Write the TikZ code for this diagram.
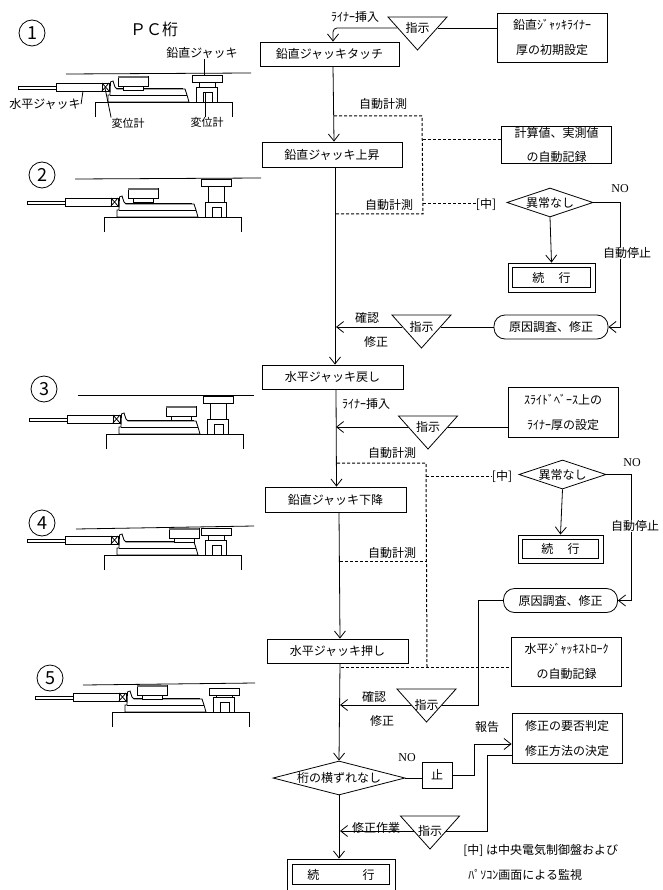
\documentclass[tikz,border=0pt]{standalone}
\usepackage{fontspec}
\setmainfont{Noto Sans CJK JP}
\newfontfamily\latinfont{Liberation Serif}
\usetikzlibrary{arrows.meta, shapes.geometric}
\newcommand{\jackset}[3]{
		\draw(0,15) -- (0,0) -- (137,0) -- (137,15);
		\draw(-77,-16) rectangle (-39,-13);
		\draw(-39,-19) rectangle (7,-11);
		\draw(7,-19) rectangle (14,-11);
		\draw(7,-19) -- (14,-11);
		\draw(7,-11) -- (14,-19);
		\draw(13,0) -- (13,-7) -- (15,-7) -- (15.5,-20) -- (18,-21) -- (20,-15) -- (22,-13) -- (90,-13) -- (92,-7) -- (94,0) -- cycle;
		\draw(15,-7) -- (92,-7);
		\draw[line width=1.2pt](22,-13.5) -- (88,-13.5);
		\draw[fill=white](#1,#2) rectangle ({#1+30},{#2+10});
		\fill[black!60](#1,#2) rectangle ({#1+30},{#2+2});
		\draw[fill=white]({#1+5},{#2+10}) rectangle ({#1+25},{#2+14});
		\draw(101,0) -- (101,-15) -- (122,-15) -- (122,0);
		\draw(108,0) -- (108,-10) -- (117,-10) -- (117,0);
		\draw(97,#3) rectangle (127,{#3+7});
		\draw(104,{#3+7}) -- (104,-15);
		\draw(120,{#3+7}) -- (120,-15);
}
\tikzset{
	flowbox/.style={draw, align=center, inner sep=0pt},
	planbox/.style={flowbox, minimum width=110pt, minimum height=49pt},
	stadium/.style={draw, rounded corners=11pt, inner sep=0pt, minimum width=114pt, minimum height=24pt},
	judge/.style={draw, diamond, inner sep=0pt, aspect=3},
	donebox/.style={draw, inner sep=0pt,
		append after command={\pgfextra{\draw([shift={(#1,#1)}]\tikzlastnode.north west) rectangle ([shift={(-#1,-#1)}]\tikzlastnode.south east);}}},
	stagemark/.style={draw, circle, inner sep=0pt, minimum size=26pt, font=\fontsize{18}{18}\selectfont},
	tag/.style={inner sep=0pt},
	dashline/.style={line width=1pt, dash pattern=on 3pt off 2pt},
	tri/.style={inner sep=0pt, minimum width={59pt*(33-#1)/33}, minimum height=12pt,
		append after command={\pgfextra{\draw([shift={(-29.5,-#1)}]\tikzlastnode.center) -- ([shift={(29.5,-#1)}]\tikzlastnode.center) -- ([shift={(0,33-#1)}]\tikzlastnode.center) -- cycle;}}}
}
\begin{document}
\begin{tikzpicture}[x=1pt,y=-1pt,line width=0.8pt,>={Straight Barb[length=7pt,width=11pt]},font=\fontsize{12}{25}\selectfont]
		\useasboundingbox (0,0) rectangle (662,890);

		\node[stagemark] (s1) at (32,33) {1};
		\node[stagemark] (s2) at (42,175) {2};
		\node[stagemark] (s3) at (44,389) {3};
		\node[stagemark] (s4) at (42,523) {4};
		\node[stagemark] (s5) at (50,678) {5};
		\node[tag, font=\fontsize{16}{16}\selectfont] (pc) at (154,29) {ＰＣ桁};

		\draw(66,74) -- (251,73);
		\draw(75,179) -- (261,178);
		\draw(78,395) -- (254,395);
		\draw(76,529) -- (254,526);
		\draw(83,685) -- (255,683);
		\begin{scope}[shift={(95,102)}]
			\jackset{23}{-26}{-27}
		\end{scope}
		\begin{scope}[shift={(104,217)}]
			\jackset{24}{-29}{-38}
		\end{scope}
		\begin{scope}[shift={(106,434)}]
			\jackset{60}{-28}{-38}
		\end{scope}
		\begin{scope}[shift={(104,555)}]
			\jackset{65}{-27}{-27}
		\end{scope}
		\begin{scope}[shift={(112,712)}]
			\jackset{25}{-27}{-24}
		\end{scope}

		\node[tag] (vlabel) at (202,53) {鉛直ジャッキ};
		\node[tag] (hlabel) at (45,104) {水平ジャッキ};
		\node[tag, font=\fontsize{11}{11}\selectfont] (gauge1) at (128,123) {変位計};
		\node[tag, font=\fontsize{11}{11}\selectfont] (gauge2) at (207,122) {変位計};
		\coordinate (vhead) at (204,75);
		\coordinate (hcyl) at (83,91);
		\coordinate (gxbox) at (105,88);
		\coordinate (gbase) at (205,93);
		\draw([xshift=2pt]vlabel.south) -- (vhead);
		\draw(hlabel.east) -- (hcyl);
		\draw(gauge1.north west) -- (gxbox);
		\draw([xshift=-2pt]gauge2.north) -- (gbase);

		\node[flowbox, minimum width=139pt, minimum height=24pt] (touch) at (329.5,54) {鉛直ジャッキタッチ};
		\node[flowbox, minimum width=140pt, minimum height=25pt] (rise) at (332,154.5) {鉛直ジャッキ上昇};
		\node[flowbox, minimum width=141pt, minimum height=24pt] (back) at (332.5,377) {水平ジャッキ戻し};
		\node[flowbox, minimum width=141pt, minimum height=25pt] (lower) at (335.5,499.5) {鉛直ジャッキ下降};
		\node[flowbox, minimum width=141pt, minimum height=24pt] (push) at (337.5,651) {水平ジャッキ押し};
		\node[judge, minimum width=132pt, minimum height=34pt, aspect=4] (judge3) at (339,778) {桁の横ずれなし};
		\node[donebox=6, minimum width=108pt, minimum height=31pt] (done3) at (341,874.5) {続\hspace{3.6em}行};

		\node[planbox] (liner) at (552,37.5) {鉛直ｼﾞｬｯｷﾗｲﾅｰ\\厚の初期設定};
		\node[planbox, minimum height=37pt, font=\fontsize{12}{24}\selectfont] (record1) at (556.5,144.5) {計算値、実測値\\の自動記録};
		\node[planbox, minimum height=50pt] (slide) at (563,412) {ｽﾗｲﾄﾞﾍﾞｰｽ上の\\ﾗｲﾅｰ厚の設定};
		\node[planbox] (record2) at (566.5,661.5) {水平ｼﾞｬｯｷｽﾄﾛｰｸ\\の自動記録};
		\node[planbox, minimum height=50pt] (plan) at (567,738) {修正の要否判定\\修正方法の決定};

		\node[tri=11] (t1) at (417.5,28) {指示};
		\node[tri=12] (t2) at (421.5,327) {指示};
		\node[tri=11] (t3) at (428,427) {指示};
		\node[tri=16] (t4) at (426.5,705) {指示};
		\node[tri=15] (t5) at (430,831) {指示};

		\node[judge, minimum width=86pt, minimum height=29pt] (judge1) at (550,202.5) {異常なし};
		\node[judge, minimum width=87pt, minimum height=29pt] (judge2) at (562.5,474.5) {異常なし};
		\node[donebox=5, minimum width=87pt, minimum height=29pt] (done1) at (551.5,277.5) {続\hspace{1.2em}行};
		\node[donebox=5, minimum width=85pt, minimum height=28pt] (done2) at (560.5,549) {続\hspace{1.2em}行};
		\node[stadium] (cause1) at (551,327) {原因調査、修正};
		\node[stadium] (cause2) at (560.5,600.5) {原因調査、修正};
		\node[flowbox, minimum width=30pt, minimum height=26pt] (halt) at (437,775) {止};

		\node[tag] (mid1) at (486,204) {[中]};
		\node[tag] (mid2) at (502,476) {[中]};
		\node[tag] (stop1) at (627,253) {自動停止};
		\node[tag] (stop2) at (635,526) {自動停止};
		\node[tag, font=\latinfont\fontsize{12}{12}\selectfont] (no1) at (620,189) {NO};
		\node[tag, font=\latinfont\fontsize{12}{12}\selectfont] (no2) at (632,463) {NO};
		\node[tag, font=\latinfont\fontsize{12}{12}\selectfont] (no3) at (407,758) {NO};
		\node[tag] (linerin1) at (355,17) {ﾗｲﾅｰ挿入};
		\node[tag] (linerin2) at (366,404) {ﾗｲﾅｰ挿入};
		\node[tag] (auto1) at (383,104) {自動計測};
		\node[tag] (auto2) at (389,205) {自動計測};
		\node[tag] (auto3) at (392,453) {自動計測};
		\node[tag] (auto4) at (392,553) {自動計測};
		\node[tag] (check1) at (367,318) {確認};
		\node[tag] (fix1) at (376,342) {修正};
		\node[tag] (check2) at (374,697) {確認};
		\node[tag] (fix2) at (382,721) {修正};
		\node[tag] (report) at (487,727) {報告};
		\node[tag] (repair) at (376,828) {修正作業};
		\node[tag, anchor=west] (note1) at (463,850) {[中] は中央電気制御盤および};
		\node[tag, anchor=west] (note2) at (468,875) {ﾊﾟｿｺﾝ画面による監視};

		\coordinate (b1) at (333,28);
		\coordinate (a2) at (336,327);
		\coordinate (a3) at (336,427);
		\coordinate (a4) at (340,705);
		\coordinate (a5) at (340,831);
		\coordinate (n1) at (620,202.5);
		\coordinate (n2) at (631,474.5);
		\coordinate (c4) at (478,705);
		\coordinate (r1) at (474,744);
		\coordinate (p1) at (487,755);

		\draw[->] ([xshift=3.5pt]touch.south) -- ([xshift=2pt]rise.north);
		\draw[->] ([xshift=3pt]rise.south) -- ([xshift=2.5pt]back.north);
		\draw[->] ([xshift=3.5pt]back.south) -- ([xshift=1pt]lower.north);
		\draw[->] ([xshift=3.5pt]lower.south) -- ([xshift=2.5pt]push.north);
		\draw[->] ([xshift=2.5pt]push.south) -- (judge3.north);
		\draw[->] (judge3.south) -- ([xshift=-2pt]done3.north);

		\draw[->, rounded corners=4pt] (t1.west) -- (b1) -- ([xshift=3.5pt]touch.north);
		\draw(t1.east) -- (t1.east -| liner.west);
		\draw[->] (t2.west) -- (a2);
		\draw(t2.east) -- (cause1.west);
		\draw[->] (t3.west) -- (a3);
		\draw(t3.east) -- (t3.east -| slide.west);
		\draw[->] (t4.west) -- (a4);
		\draw(t4.east) -- (c4) |- (cause2.west);
		\draw[->] (t5.west) -- (a5);
		\draw(t5.east) -| (p1) -- (p1 -| plan.west);

		\draw[->] (judge1.south) -- (done1.north);
		\draw[->] (judge2.south) -- (done2.north);
		\draw(judge1.east) -- (n1) -- (n1 |- stop1.north);
		\draw[->] (n1 |- stop1.south) |- (cause1.east);
		\draw(judge2.east) -- (n2) -- (n2 |- stop2.north);
		\draw[->] (n2 |- stop2.south) |- (cause2.east);

		\draw(judge3.east) -- (judge3.east -| halt.west);
		\draw(halt.east) -| (r1);
		\draw[->] (r1) -- (r1 -| plan.west);

		\coordinate (d1) at (334,116);
		\coordinate (d2) at (422,116);
		\coordinate (d3) at (423,214);
		\coordinate (d4) at (335,214);
		\coordinate (d5) at (422.5,140);
		\coordinate (d6) at (423,204);
		\coordinate (d7) at (337,463);
		\coordinate (d8) at (426,463);
		\coordinate (d9) at (427,667);
		\coordinate (d10) at (341,667);
		\coordinate (d11) at (426,476);
		\coordinate (d12) at (340,561);
		\coordinate (d13) at (426,561);
		\draw[dashline] (d1) -- (d2) -- (d3) -- (d4);
		\draw[dashline] (d5) -- (d5 -| record1.west);
		\draw[dashline] (d6) -- (mid1.west);
		\draw[dashline] (d7) -- (d8) -- (d9);
		\draw[dashline] (d10) -- (d10 -| record2.west);
		\draw[dashline] (d11) -- (mid2.west);
		\draw[dashline] (d12) -- (d13);
\end{tikzpicture}
\end{document}
